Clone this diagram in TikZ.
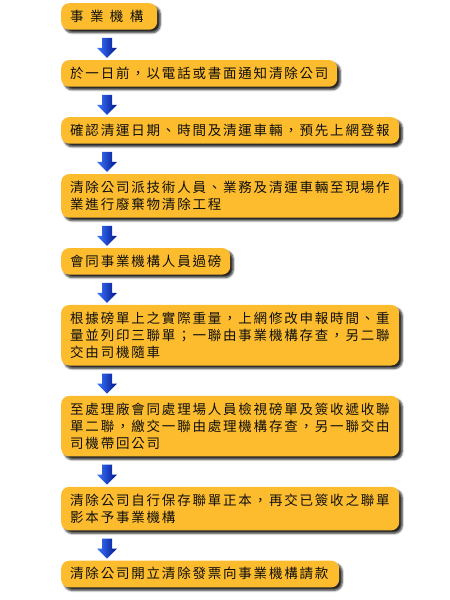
\documentclass[tikz,border=0pt]{standalone}
\usepackage{fontspec}
\setmainfont{Noto Sans CJK TC}[LetterSpace=13.3]
\usepackage{tikz}
\usetikzlibrary{
  positioning,
  calc,
  shadows.blur
}
\definecolor{boxcolor}{RGB}{252, 188, 46}
\definecolor{labelcolor}{RGB}{15, 15, 15}
\definecolor{arrowlight}{RGB}{60, 120, 255}
\definecolor{arrowdark}{RGB}{0, 20, 140}
\tikzset{
stepbox/.style={
  fill=boxcolor,
  rounded corners=8pt,
  inner xsep=9pt,
  inner ysep=7.2pt,
  text height=11pt,
  align=left,
  font=\fontsize{13.5pt}{17pt}\selectfont,
  text=labelcolor,
  blur shadow={shadow xshift=3pt, shadow yshift=-3pt,
    shadow blur radius=2pt, shadow blur steps=6, shadow opacity=85}
},
widebox/.style={
  stepbox,
  text width=320pt
},
flowarrow/.style={
  left color=arrowlight,
  right color=arrowdark,
  to path={let \p1=(\tikztostart), \p2=(\tikztotarget) in
    (\x1-5pt,\y1) -- (\x1+5pt,\y1) -- (\x1+5pt,\y2+10pt)
    -- (\x1+10pt,\y2+10pt) -- (\x1,\y2) -- (\x1-10pt,\y2+10pt)
    -- (\x1-5pt,\y2+10pt) -- cycle}
}
}

\begin{document}
\begin{tikzpicture}
  \useasboundingbox (0,0) rectangle (450pt,-600pt);

  \node[stepbox, text width=78pt, anchor=north west] (org) at (61pt,-3pt)
    {事\kern6.4pt業\kern6.4pt機\kern6.4pt構};
  \node[stepbox, text width=258pt, below right=30pt and 0pt of org.south west]
    (notify) {於一日前，以電話或書面通知清除公司};
  \node[widebox, below right=30pt and 0pt of notify.south west]
    (confirm) {確認清運日期、時間及清運車輛，預先上網登報};
  \node[widebox, below right=30pt and 0pt of confirm.south west]
    (dispatch) {清除公司派技術人員、業務及清運車輛至現場作\\
                業進行廢棄物清除工程};
  \node[stepbox, text width=151pt, below right=30pt and 0pt of dispatch.south west]
    (weigh) {會同事業機構人員過磅};
  \node[widebox, below right=30pt and 0pt of weigh.south west]
    (report) {根據磅單上之實際重量，上網修改申報時間、重\\
              量並列印三聯單；一聯由事業機構存查，另二聯\\
              交由司機隨車};
  \node[widebox, below right=30pt and 0pt of report.south west]
    (plant) {至處理廠會同處理場人員檢視磅單及簽收遞收聯\\
             單二聯，繳交一聯由處理機構存查，另一聯交由\\
             司機帶回公司};
  \node[widebox, below right=30pt and 0pt of plant.south west]
    (keep) {清除公司自行保存聯單正本，再交已簽收之聯單\\
            影本予事業機構};
  \node[stepbox, text width=260pt, below right=30pt and 0pt of keep.south west]
    (invoice) {清除公司開立清除發票向事業機構請款};

  % block arrows between the steps
  \foreach \a/\b in {org/notify, notify/confirm, confirm/dispatch,
      dispatch/weigh, weigh/report, report/plant, plant/keep, keep/invoice}
    \path[flowarrow] ($(\a.south west)+(46pt,-8pt)$) to ($(\b.north west)+(46pt,2pt)$);
\end{tikzpicture}
\end{document}
